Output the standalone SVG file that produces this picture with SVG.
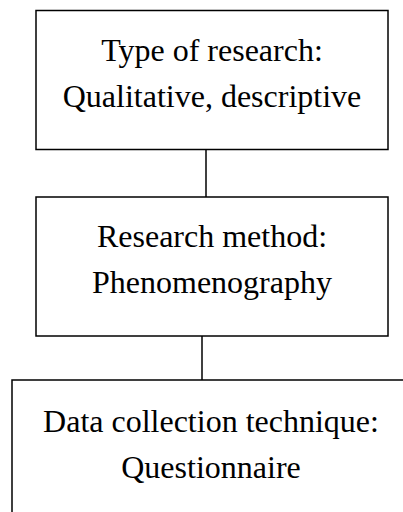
<svg xmlns="http://www.w3.org/2000/svg" width="403" height="512" viewBox="0 0 403 512">
<style>
.box{fill:#fff;stroke:#000;stroke-width:1.5}
.lbl{font-family:"Liberation Serif","Times New Roman",serif;font-size:32px;fill:#000;text-anchor:middle}
.conn{stroke:#000;stroke-width:1.5;fill:none}
</style>
<rect width="403" height="512" fill="#fff"/>
<g id="connectors">
<line class="conn" x1="206" y1="149" x2="206" y2="197"/>
<line class="conn" x1="202" y1="336" x2="202" y2="380"/>
</g>
<g id="node-type">
<rect class="box" x="36" y="10.5" width="352" height="139"/>
<text class="lbl" x="212" y="61">Type of research:</text>
<text class="lbl" x="212" y="107">Qualitative, descriptive</text>
</g>
<g id="node-method">
<rect class="box" x="36" y="197" width="352" height="139"/>
<text class="lbl" x="212" y="247">Research method:</text>
<text class="lbl" x="212" y="293">Phenomenography</text>
</g>
<g id="node-technique">
<rect class="box" x="12" y="380" width="420" height="160"/>
<text class="lbl" x="211" y="432">Data collection technique:</text>
<text class="lbl" x="211" y="478">Questionnaire</text>
</g>
</svg>
